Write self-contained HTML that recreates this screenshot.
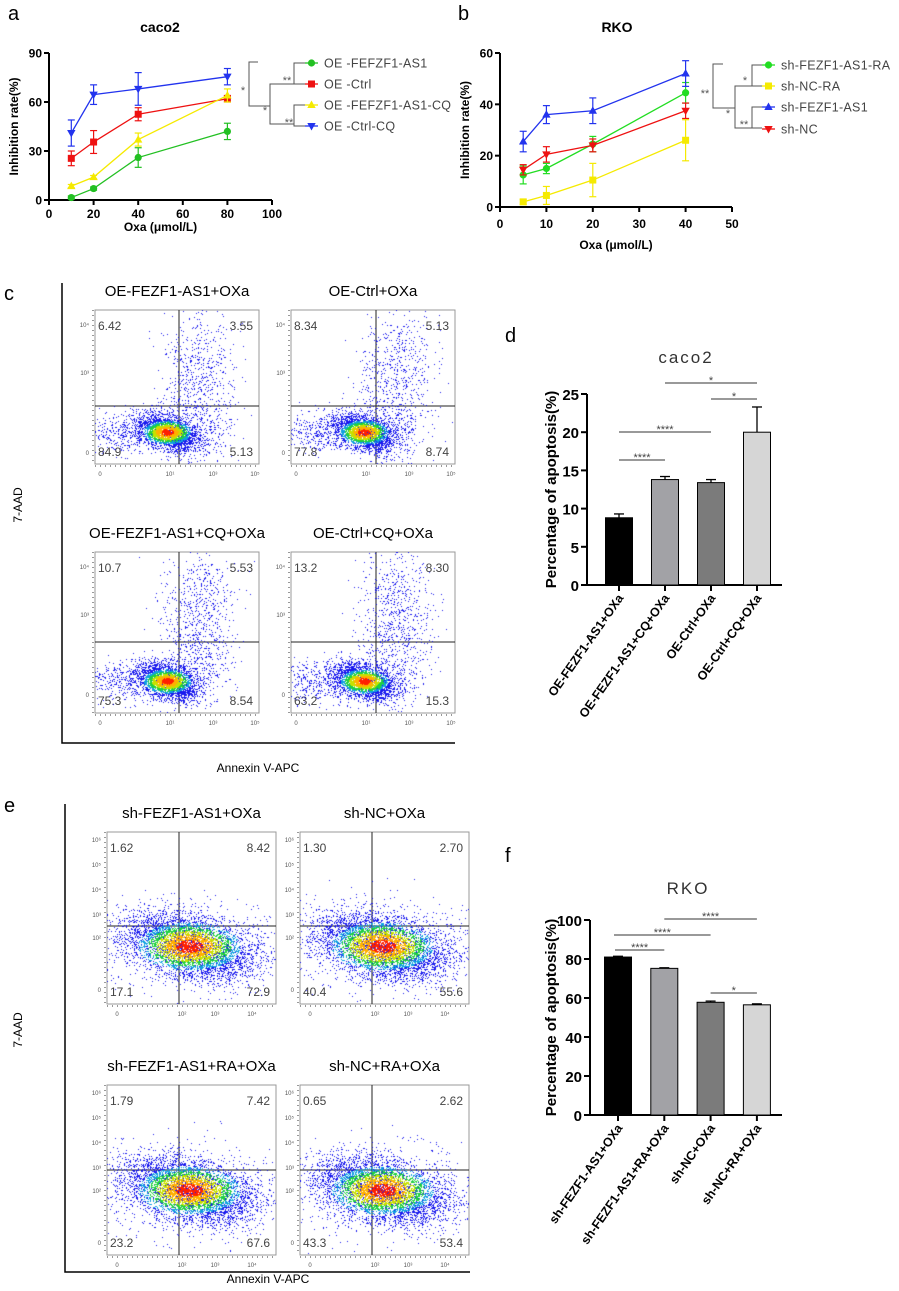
<!DOCTYPE html>
<html><head><meta charset="utf-8"><style>
body{margin:0;background:#fff;}
#wrap{position:relative;width:899px;height:1291px;overflow:hidden;font-family:"Liberation Sans",sans-serif;}
svg{position:absolute;left:0;top:0;}
canvas{position:absolute;}
</style></head><body>
<div id="wrap">
<svg id="s" width="899" height="1291"></svg>
</div>
<script>
// ---------- Panel a data ----------
const aX=[10,20,40,80];
const aGreen=[1.5,7,26,42], aGreenErr=[1,1,6,5];
const aRed=[25.5,35.5,52.5,62], aRedErr=[4.5,7,4,2];
const aYellow=[8.5,14,37,64], aYellowErr=[1,1,4,4];
const aBlue=[41,64.5,68,75.5], aBlueErr=[8,6,10,5];
const aYTicks=[0,30,60,90], aXTicks=[0,20,40,60,80,100];
// ---------- Panel b data ----------
const bX=[5,10,20,40];
const bGreen=[12.5,15,24.5,44.5], bGreenErr=[3.5,2,3,4];
const bYellow=[2,4.5,10.5,26], bYellowErr=[1,3.5,6.5,8];
const bBlue=[25.5,36,37.5,52], bBlueErr=[4,3.5,5,5];
const bRed=[14.5,20.5,24,37.5], bRedErr=[2,3,2.5,3];
const bYTicks=[0,20,40,60], bXTicks=[0,10,20,30,40,50];
// ---------- Panel d data ----------
const dCats=["OE-FEZF1-AS1+OXa","OE-FEZF1-AS1+CQ+OXa","OE-Ctrl+OXa","OE-Ctrl+CQ+OXa"];
const dVals=[8.8,13.8,13.4,20.0], dErr=[0.5,0.4,0.4,3.3];
const dTicks=[0,5,10,15,20,25];
// ---------- Panel f data ----------
const fCats=["sh-FEZF1-AS1+OXa","sh-FEZF1-AS1+RA+OXa","sh-NC+OXa","sh-NC+RA+OXa"];
const fVals=[81,75.2,57.8,56.5], fErr=[0.4,0.3,0.6,0.5];
const fTicks=[0,20,40,60,80,100];
// ---------- Flow percentages ----------
const cQuad=[["6.42","3.55","84.9","5.13"],["8.34","5.13","77.8","8.74"],["10.7","5.53","75.3","8.54"],["13.2","8.30","63.2","15.3"]];
const eQuad=[["1.62","8.42","17.1","72.9"],["1.30","2.70","40.4","55.6"],["1.79","7.42","23.2","67.6"],["0.65","2.62","43.3","53.4"]];

const S=document.getElementById('s');const NS='http://www.w3.org/2000/svg';
function el(t,a,p){const e=document.createElementNS(NS,t);for(const k in a)e.setAttribute(k,a[k]);(p||S).appendChild(e);return e;}
function tx(x,y,s,a){const e=el('text',Object.assign({x:x,y:y},a||{}));e.textContent=s;return e;}

// panel letters
[['a',8,20],['b',458,20],['c',4,300],['d',505,342],['e',4,812],['f',505,862]].forEach(p=>{
 const t=tx(p[1],p[2],p[0],{'font-size':'20','fill':'#000'});
 });

function marker(g,shape,x,y,c){
 if(shape==='circle')el('circle',{cx:x,cy:y,r:3.6,fill:c},g);
 else if(shape==='square')el('rect',{x:x-3.5,y:y-3.5,width:7,height:7,fill:c},g);
 else if(shape==='up')el('polygon',{points:`${x},${y-4.5} ${x-4.2},${y+3} ${x+4.2},${y+3}`,fill:c},g);
 else el('polygon',{points:`${x},${y+4.5} ${x-4.2},${y-3} ${x+4.2},${y-3}`,fill:c},g);
}
function lineChart(o){
 const g=el('g',{});
 const sx=v=>o.x0+(v-o.xmin)/(o.xmax-o.xmin)*(o.x1-o.x0);
 const sy=v=>o.y0-(v)/(o.ymax)*(o.y0-o.y1);
 const ax=el('g',{},g);
 el('line',{x1:o.x0,y1:o.y0,x2:o.x1,y2:o.y0,stroke:'#000','stroke-width':2},ax);
 el('line',{x1:o.x0,y1:o.y0,x2:o.x0,y2:o.y1,stroke:'#000','stroke-width':2},ax);
 o.yt.forEach(v=>{el('line',{x1:o.x0-5,y1:sy(v),x2:o.x0,y2:sy(v),stroke:'#000','stroke-width':2},ax);
  const t=el('text',{x:o.x0-7,y:sy(v)+4.5,'text-anchor':'end','font-size':12,'font-weight':'bold'},ax);t.textContent=v;});
 o.xt.forEach(v=>{el('line',{x1:sx(v),y1:o.y0,x2:sx(v),y2:o.y0+5,stroke:'#000','stroke-width':2},ax);
  const t=el('text',{x:sx(v),y:o.y0+o.tly,'text-anchor':'middle','font-size':12,'font-weight':'bold'},ax);t.textContent=v;});
 let t=el('text',{x:(o.x0+o.x1)/2,y:o.y0+o.tty,'text-anchor':'middle','font-size':12,'font-weight':'bold'},g);t.textContent='Oxa (μmol/L)';
 
 t=el('text',{x:0,y:0,'text-anchor':'middle','font-size':12,'font-weight':'bold',transform:`translate(${o.x0-31},${(o.y0+o.y1)/2}) rotate(-90)`},g);t.textContent='Inhibition rate(%)';
 
 t=el('text',{x:o.tx,y:32,'text-anchor':'middle','font-size':14,'font-weight':'bold'},g);t.textContent=o.title;
 
 o.series.forEach(s=>{
  const sg=el('g',{},g);
  el('polyline',{points:o.xs.map((x,i)=>sx(x)+','+sy(s.v[i])).join(' '),fill:'none',stroke:s.c,'stroke-width':1.3},sg);
  o.xs.forEach((x,i)=>{const X=sx(x),a=sy(s.v[i]+s.e[i]),b=sy(s.v[i]-s.e[i]);
   el('line',{x1:X,y1:a,x2:X,y2:b,stroke:s.c,'stroke-width':1.2},sg);
   el('line',{x1:X-3.5,y1:a,x2:X+3.5,y2:a,stroke:s.c,'stroke-width':1.2},sg);
   el('line',{x1:X-3.5,y1:b,x2:X+3.5,y2:b,stroke:s.c,'stroke-width':1.2},sg);
   marker(sg,s.m,X,sy(s.v[i]),s.c);});
 });
 const lg=el('g',{},g);
 o.series.forEach((s,i)=>{const y=o.ly[i];
  const eg=el('g',{},lg);
  el('line',{x1:o.lx,y1:y,x2:o.lx+13,y2:y,stroke:s.c,'stroke-width':1.3},eg);marker(eg,s.m,o.lx+6.5,y,s.c);
  const tt=el('text',{x:o.lx+19,y:y+4.5,'font-size':12.5,fill:'#444','letter-spacing':'0.3'},eg);tt.textContent=s.label;});
 o.br.forEach(b=>el('path',{d:b,fill:'none',stroke:'#555','stroke-width':1},lg));
 o.stars.forEach(s=>{const tt=el('text',{x:s[0],y:s[1],'font-size':11,fill:'#555','text-anchor':'middle'},lg);tt.textContent=s[2];});
}
lineChart({name:'chart-a-caco2',x0:49,x1:272,y0:200,y1:53,xmin:0,xmax:100,ymax:90,yt:aYTicks,xt:aXTicks,xs:aX,title:'caco2',tx:160,tly:18,tty:31,
 series:[{key:'oe-fezf1-as1',label:'OE -FEFZF1-AS1',v:aGreen,e:aGreenErr,c:'#22c022',m:'circle'},
 {key:'oe-ctrl',label:'OE -Ctrl',v:aRed,e:aRedErr,c:'#ee1111',m:'square'},
 {key:'oe-fefzf1-as1-cq',label:'OE -FEFZF1-AS1-CQ',v:aYellow,e:aYellowErr,c:'#f5ea00',m:'up'},
 {key:'oe-ctrl-cq',label:'OE -Ctrl-CQ',v:aBlue,e:aBlueErr,c:'#2233ee',m:'down'}],
 lx:305,ly:[63,84,105,126],
 br:['M305,63 H294 V84 H305','M305,105 H294 V126 H305','M294,84 H270 V124 H294','M258,62 H249 V106 H270'],
 stars:[[287,84,'**'],[289,126,'**'],[243,94,'*'],[265,114,'*']]});
lineChart({name:'chart-b-rko',x0:500,x1:732,y0:207,y1:53,xmin:0,xmax:50,ymax:60,yt:bYTicks,xt:bXTicks,xs:bX,title:'RKO',tx:617,tly:21,tty:42,
 series:[{key:'sh-fezf1-as1-ra',label:'sh-FEZF1-AS1-RA',v:bGreen,e:bGreenErr,c:'#22dd22',m:'circle'},
 {key:'sh-nc-ra',label:'sh-NC-RA',v:bYellow,e:bYellowErr,c:'#f5ea00',m:'square'},
 {key:'sh-fezf1-as1',label:'sh-FEZF1-AS1',v:bBlue,e:bBlueErr,c:'#2233ee',m:'up'},
 {key:'sh-nc',label:'sh-NC',v:bRed,e:bRedErr,c:'#ee1111',m:'down'}],
 lx:762,ly:[65,86,107,129],
 br:['M762,65 H752 V86 H762','M762,107 H752 V128 H762','M752,86 H735 V128 H752','M723,64 H713 V108 H735'],
 stars:[[745,84,'*'],[744,128,'**'],[705,97,'**'],[728,117,'*']]});

// ---------- bar charts ----------
function barChart(o){
 const g=el('g',{});
 const sy=v=>o.y0-v/o.ymax*(o.y0-o.y1);
 const cols=['#000','#a2a2a6','#7b7b7b','#d6d6d6'];
 const bw=27;
 const ax=el('g',{},g);
 o.vals.forEach((v,i)=>{const cx=o.cx0+i*o.step;
  const r=el('rect',{x:cx-bw/2,y:sy(v),width:bw,height:o.y0-sy(v),fill:cols[i],stroke:'#000','stroke-width':1},g);
  
  const t=sy(v+o.err[i]);el('line',{x1:cx,y1:sy(v),x2:cx,y2:t,stroke:'#000','stroke-width':1.3},g);
  el('line',{x1:cx-5,y1:t,x2:cx+5,y2:t,stroke:'#000','stroke-width':1.3},g);
  el('line',{x1:cx,y1:o.y0,x2:cx,y2:o.y0+6,stroke:'#000','stroke-width':2},ax);
  const lb=el('text',{x:0,y:0,'text-anchor':'end','font-size':12.5,'font-weight':'bold',transform:`translate(${cx+5},${o.y0+13}) rotate(-55)`},ax);
  lb.textContent=o.cats[i];});
 el('line',{x1:o.x0,y1:o.y0,x2:o.xend,y2:o.y0,stroke:'#000','stroke-width':2},ax);
 el('line',{x1:o.x0,y1:o.y0+1,x2:o.x0,y2:o.y1,stroke:'#000','stroke-width':2},ax);
 o.ticks.forEach(v=>{el('line',{x1:o.x0-6,y1:sy(v),x2:o.x0,y2:sy(v),stroke:'#000','stroke-width':2},ax);
  const t=el('text',{x:o.x0-8,y:sy(v)+6,'text-anchor':'end','font-size':15,'font-weight':'bold'},ax);t.textContent=v;});
 let t=el('text',{x:0,y:0,'text-anchor':'middle','font-size':15,'font-weight':'bold',transform:`translate(${o.ytx},${(o.y0+o.y1)/2}) rotate(-90)`},g);
 t.textContent='Percentage of apoptosis(%)';
 t=el('text',{x:o.tx,y:o.ty,'text-anchor':'middle','font-size':17,'font-weight':'300',fill:'#333','letter-spacing':'2'},g);t.textContent=o.title;
 
 o.sig.forEach(s=>{const a=o.cx0+s[0]*o.step-(s[4]||0),b=o.cx0+s[1]*o.step;
  el('line',{x1:a,y1:s[2],x2:b,y2:s[2],stroke:'#333','stroke-width':1},g);
  const st=el('text',{x:(a+b)/2,y:s[2]+1,'text-anchor':'middle','font-size':11,fill:'#444'},g);st.textContent=s[3];});
}
barChart({name:'chart-d-caco2-apoptosis',x0:587,xend:782,y0:585,y1:394,ymax:25,ticks:dTicks,vals:dVals,err:dErr,cats:dCats,cx0:619,step:46,ytx:556,tx:686,ty:363,title:'caco2',
 sig:[[0,1,460,'****'],[0,2,432,'****'],[1,3,383,'*'],[2,3,399,'*']]});
barChart({name:'chart-f-rko-apoptosis',x0:590,xend:782,y0:1115,y1:920,ymax:100,ticks:fTicks,vals:fVals,err:fErr,cats:fCats,cx0:618,step:46.3,ytx:556,tx:688,ty:894,title:'RKO',
 sig:[[0,1,950,'****',3],[0,2,935,'****',4],[1,3,919,'****'],[2,3,993,'*']]});

// ---------- flow panels ----------
let seed=12345;function rnd(){seed=(seed*1103515245+12345)%2147483648;return seed/2147483648;}
function gauss(){return Math.sqrt(-2*Math.log(rnd()+1e-9))*Math.cos(2*Math.PI*rnd());}
const W=document.getElementById('wrap');
function flowPlot(name,title,q,x0,y0,w,h,vx,hy,type,ylabels,xlabels){
 const g=el('g',{});
 let t=el('text',{x:x0+w/2,y:y0-14,'text-anchor':'middle','font-size':15},g);t.textContent=title;
 
 const cv=document.createElement('canvas');cv.width=w;cv.height=h;cv.style.left=x0+'px';cv.style.top=y0+'px';
 W.appendChild(cv);
 const c=cv.getContext('2d');const pts=[];
 const cx=vx-x0,cy=hy-y0;
 if(type==='c'){
  for(let i=0;i<2600;i++){const a=gauss(),b=gauss();pts.push([cx-12+a*14-b*3,h-32+b*7+a*5,1]);}
  for(let i=0;i<700;i++)pts.push([cx-40+gauss()*35,h-32+gauss()*10,0.3]);
  for(let i=0;i<500;i++)pts.push([cx+20+gauss()*18,cy-40+gauss()*30,0]);
  for(let i=0;i<400;i++)pts.push([cx+15+gauss()*18,cy+20+gauss()*25,0]);
 }else{
  for(let i=0;i<5000;i++){const a=gauss(),b=gauss();pts.push([cx+10+a*30,cy+20+b*14+a*6,1]);}
  for(let i=0;i<1000;i++)pts.push([cx+10+gauss()*50,cy+20+gauss()*22,0]);
 }
 pts.forEach(p=>{const dx=(p[0]-(type==='c'?cx-12:cx+10))/(type==='c'?14:30),dy=(p[1]-(type==='c'?h-32:cy+20))/(type==='c'?7:14);
  const d=Math.sqrt(dx*dx+dy*dy)+(p[2]===0?2:0);
  c.fillStyle=d<0.45?'#ff2000':d<0.8?'#ffb000':d<1.1?'#c8e000':d<1.4?'#20d040':d<1.7?'#10a0e0':'#1a1aee';
  c.fillRect(Math.round(p[0]),Math.round(p[1]),1,1);});
 el('rect',{x:x0,y:y0,width:w,height:h,fill:'none',stroke:'#999','stroke-width':1},g);
 el('line',{x1:vx,y1:y0,x2:vx,y2:y0+h,stroke:'#222','stroke-width':1},g);
 el('line',{x1:x0,y1:hy,x2:x0+w,y2:hy,stroke:'#222','stroke-width':1},g);
 const qa=[[x0+3,y0+20,'start'],[x0+w-6,y0+20,'end'],[x0+3,y0+h-8,'start'],[x0+w-6,y0+h-8,'end']];
 q.forEach((v,i)=>{const tt=el('text',{x:qa[i][0],y:qa[i][1],'text-anchor':qa[i][2],'font-size':12,fill:'#444'},g);tt.textContent=v;
  });
 el('line',{x1:x0-2,y1:y0,x2:x0-2,y2:y0+h,stroke:'#333','stroke-width':1,'stroke-dasharray':'1 4'},g);
 ylabels.forEach(l=>{const tt=el('text',{x:x0-6,y:y0+l[1],'text-anchor':'end','font-size':6,fill:'#555'},g);tt.textContent=l[0];});
 el('line',{x1:x0,y1:y0+h+2,x2:x0+w,y2:y0+h+2,stroke:'#333','stroke-width':1,'stroke-dasharray':'1 4'},g);
 xlabels.forEach(l=>{const tt=el('text',{x:x0+l[1],y:y0+h+12,'text-anchor':'middle','font-size':6,fill:'#555'},g);tt.textContent=l[0];});
}
const cY=[['10⁴',17],['10³',65],['0',145]], cX=[['0',5],['10¹',75],['10³',118],['10⁵',160]];
flowPlot('flow-c-oe-fezf1-as1','OE-FEZF1-AS1+OXa',cQuad[0],95,310,164,154,179,406,'c',cY,cX);
flowPlot('flow-c-oe-ctrl','OE-Ctrl+OXa',cQuad[1],291,310,164,154,376,406,'c',cY,cX);
flowPlot('flow-c-oe-fezf1-as1-cq','OE-FEZF1-AS1+CQ+OXa',cQuad[2],95,552,164,161,179,642,'c',cY,cX);
flowPlot('flow-c-oe-ctrl-cq','OE-Ctrl+CQ+OXa',cQuad[3],291,552,164,161,376,642,'c',cY,cX);
const eY=[['10⁶',10],['10⁵',35],['10⁴',60],['10³',85],['10²',108],['0',160]], eX=[['0',10],['10²',75],['10³',108],['10⁴',145]];
flowPlot('flow-e-sh-fezf1-as1','sh-FEZF1-AS1+OXa',eQuad[0],107,832,169,172,179,926,'e',eY,eX);
flowPlot('flow-e-sh-nc','sh-NC+OXa',eQuad[1],300,832,169,172,372,926,'e',eY,eX);
flowPlot('flow-e-sh-fezf1-as1-ra','sh-FEZF1-AS1+RA+OXa',eQuad[2],107,1085,169,170,179,1170,'e',eY,eX);
flowPlot('flow-e-sh-nc-ra','sh-NC+RA+OXa',eQuad[3],300,1085,169,170,372,1170,'e',eY,eX);
[[62,283,743,455,'c'],[65,804,1272,470,'e']].forEach(f=>{
 const g=el('g',{});
 el('path',{d:`M${f[0]},${f[1]} V${f[2]} H${f[3]}`,fill:'none',stroke:'#000','stroke-width':1.5},g);
});
[['7-AAD',22,505],['7-AAD',22,1030]].forEach(a=>{const t=tx(0,0,a[0],{'font-size':12,'text-anchor':'middle',transform:`translate(${a[1]},${a[2]}) rotate(-90)`});
 });
[['Annexin V-APC',258,772],['Annexin V-APC',268,1283]].forEach(a=>{const t=tx(a[1],a[2],a[0],{'font-size':12,'text-anchor':'middle'});
 });
</script>
</body></html>
